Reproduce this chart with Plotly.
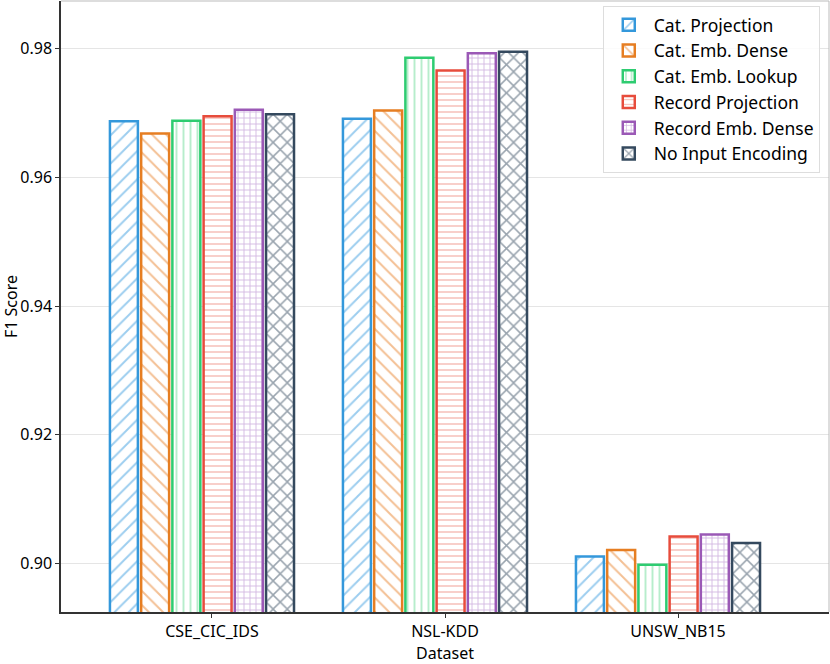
import plotly.graph_objects as go

datasets = ["CSE_CIC_IDS", "NSL-KDD", "UNSW_NB15"]
series_names = ["Cat. Projection", "Cat. Emb. Dense", "Cat. Emb. Lookup",
                "Record Projection", "Record Emb. Dense", "No Input Encoding"]
cat_projection = [0.9687, 0.9691, 0.9011]
cat_emb_dense = [0.9668, 0.9704, 0.9021]
cat_emb_lookup = [0.9688, 0.9786, 0.8998]
record_projection = [0.9695, 0.9766, 0.9042]
record_emb_dense = [0.9705, 0.9793, 0.9045]
no_input_encoding = [0.9698, 0.9795, 0.9032]
y_ticks = [0.90, 0.92, 0.94, 0.96, 0.98]

series_values = [cat_projection, cat_emb_dense, cat_emb_lookup,
                 record_projection, record_emb_dense, no_input_encoding]
colors = ["#3498db", "#e67e22", "#2ecc71", "#e74c3c", "#9b59b6", "#34495e"]
light = ["#3a9ce0", "#e8812a", "#6fdc9a", "#ee7f73", "#a86fc4", "#34495e"]
shapes_p = ["/", "\\", "|", "-", "+", "x"]
sizes = [10, 10, 7, 6, 6, 10]
solid = [0.2, 0.2, 0.28, 0.25, 0.28, 0.28]

FONT = "Noto Sans"
fig = go.Figure()
xpos = list(range(len(datasets)))
for i, (name, vals) in enumerate(zip(series_names, series_values)):
    fig.add_trace(go.Bar(
        x=xpos, y=vals, name=name,
        width=0.12, offset=-0.438 + i * 0.134,
        marker=dict(color="white",
                    line=dict(color=colors[i], width=2.5),
                    pattern=dict(shape=shapes_p[i], fgcolor=light[i], bgcolor="white",
                                 size=sizes[i], solidity=solid[i], fillmode="overlay")),
    ))

fig.update_layout(
    width=830, height=664,
    margin=dict(l=61, r=1, t=1, b=50),
    barmode="overlay",
    plot_bgcolor="white", paper_bgcolor="white",
    font=dict(family=FONT, size=16, color="black"),
    showlegend=True,
    legend=dict(x=0.988, y=0.992, xanchor="right", yanchor="top",
                bgcolor="rgba(255,255,255,0.85)", bordercolor="#dddddd", borderwidth=1,
                font=dict(size=17.5), itemwidth=40),
    xaxis=dict(range=[-0.648, 2.648], tickvals=xpos, ticktext=datasets,
               showgrid=False, showline=True, linecolor="#333333", linewidth=1.5,
               ticks="outside", ticklen=4, tickcolor="#333333", zeroline=False,
               tickfont=dict(size=16),
               title=dict(text="Dataset", standoff=10, font=dict(size=16))),
    yaxis=dict(range=[0.89247, 0.9874], tickvals=y_ticks, tickformat=".2f",
               showgrid=True, gridcolor="#e5e5e5", gridwidth=1,
               showline=True, linecolor="#333333", linewidth=1.5,
               ticks="outside", ticklen=4, tickcolor="#333333", zeroline=False,
               title=dict(text="F1 Score", standoff=4, font=dict(size=16))),
    shapes=[
        dict(type="line", xref="paper", yref="paper", x0=0, x1=1, y0=1, y1=1,
             line=dict(color="#bbbbbb", width=1)),
        dict(type="line", xref="paper", yref="paper", x0=1, x1=1, y0=0, y1=1,
             line=dict(color="#bbbbbb", width=1)),
    ],
)

fig.write_html("out.html", config={"displayModeBar": False},
               post_script="document.body.style.margin='0';")
